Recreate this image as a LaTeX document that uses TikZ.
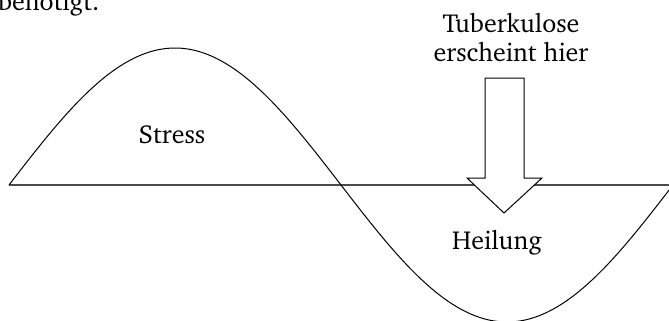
\documentclass[tikz,border=0pt]{standalone}
\usepackage[T1]{fontenc}
\usepackage{charter}
\begin{document}
\begin{tikzpicture}[x=1pt,y=-1pt,
  lbl/.style={inner sep=0pt, font=\fontsize{26}{31}\selectfont},
  wave/.style={black, line width=1pt},
  axis/.style={black!70, line width=1.3pt},
  blockarrow/.style={draw=black, fill=white, line width=1pt, line join=miter}]
\useasboundingbox (0,0) rectangle (669,321);
\begin{scope}
\clip (0,0) rectangle (669,321);
\coordinate (a0) at (9,185);
\coordinate (a1) at (669,185);
\draw[axis] (a0) -- (a1);
\draw[wave] plot[domain=9:673, samples=240, smooth] (\x, {185-137*sin((\x-9)*0.542169)});
\end{scope}
\draw[blockarrow] (485,78) -- (524,78) -- (524,178) -- (542,178) -- (504,213) -- (467,178) -- (485,178) -- cycle;
\node[lbl, anchor=base west] (top) at (-2,11) {benötigt.};
\node[lbl, anchor=base] (tb1) at (511,33) {Tuberkulose};
\node[lbl, anchor=base] (tb2) at (511,62) {erscheint hier};
\node[lbl, anchor=base] (st) at (172,143) {Stress};
\node[lbl, anchor=base] (hl) at (497,249) {Heilung};
\end{tikzpicture}
\end{document}
